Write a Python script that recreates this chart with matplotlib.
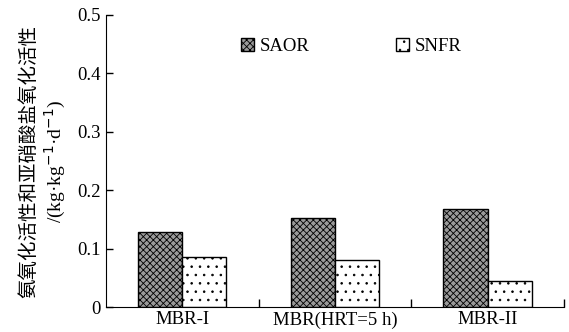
import matplotlib.pyplot as plt
import numpy as np

plt.rcParams['font.family'] = ['Liberation Serif', 'Noto Sans CJK SC']
plt.rcParams['hatch.linewidth'] = 0.6

categories = ['MBR-I', 'MBR(HRT=5 h)', 'MBR-II']
saor = [0.129, 0.153, 0.168]
snfr = [0.086, 0.081, 0.045]
yticks = [0, 0.1, 0.2, 0.3, 0.4, 0.5]
ytick_labels = ['0', '0.1', '0.2', '0.3', '0.4', '0.5']

fig = plt.figure(figsize=(5.69, 3.32), dpi=100)
ax = fig.add_axes([0.186, 0.075, 0.805, 0.88])

x = np.arange(len(categories))
w = 0.29
ax.bar(x - w / 2, saor, w, facecolor='#9a9a9a', edgecolor='black', hatch='xxxxx',
       linewidth=1.0, label='SAOR')
ax.bar(x + w / 2, snfr, w, facecolor='white', edgecolor='black', hatch='..',
       linewidth=1.0, label='SNFR')

ax.set_xlim(-0.5, 2.5)
ax.set_ylim(0, 0.5)
ax.spines['top'].set_visible(False)
ax.spines['right'].set_visible(False)

ax.set_yticks(yticks)
ax.set_yticklabels(ytick_labels, fontsize=13.5)
ax.tick_params(axis='y', direction='in', length=5, width=1, pad=4)

ax.set_xticks(x)
ax.set_xticklabels(categories, fontsize=13.5)
ax.tick_params(axis='x', length=0, pad=3)
ax.set_xticks([0.5, 1.5, 2.5], minor=True)
ax.tick_params(axis='x', which='minor', direction='in', length=6, width=1)

ax.set_ylabel('氨氧化活性和亚硝酸盐氧化活性\n/(kg·kg$^{-1}$·d$^{-1}$)', fontsize=14,
              labelpad=6, linespacing=1.3)

ax.legend(loc='upper center', bbox_to_anchor=(0.535, 0.98), ncol=2, frameon=False,
          fontsize=13.5, handlelength=0.7, handleheight=0.7, handletextpad=0.3,
          columnspacing=4.6)

fig.savefig('out.png', dpi=100)
